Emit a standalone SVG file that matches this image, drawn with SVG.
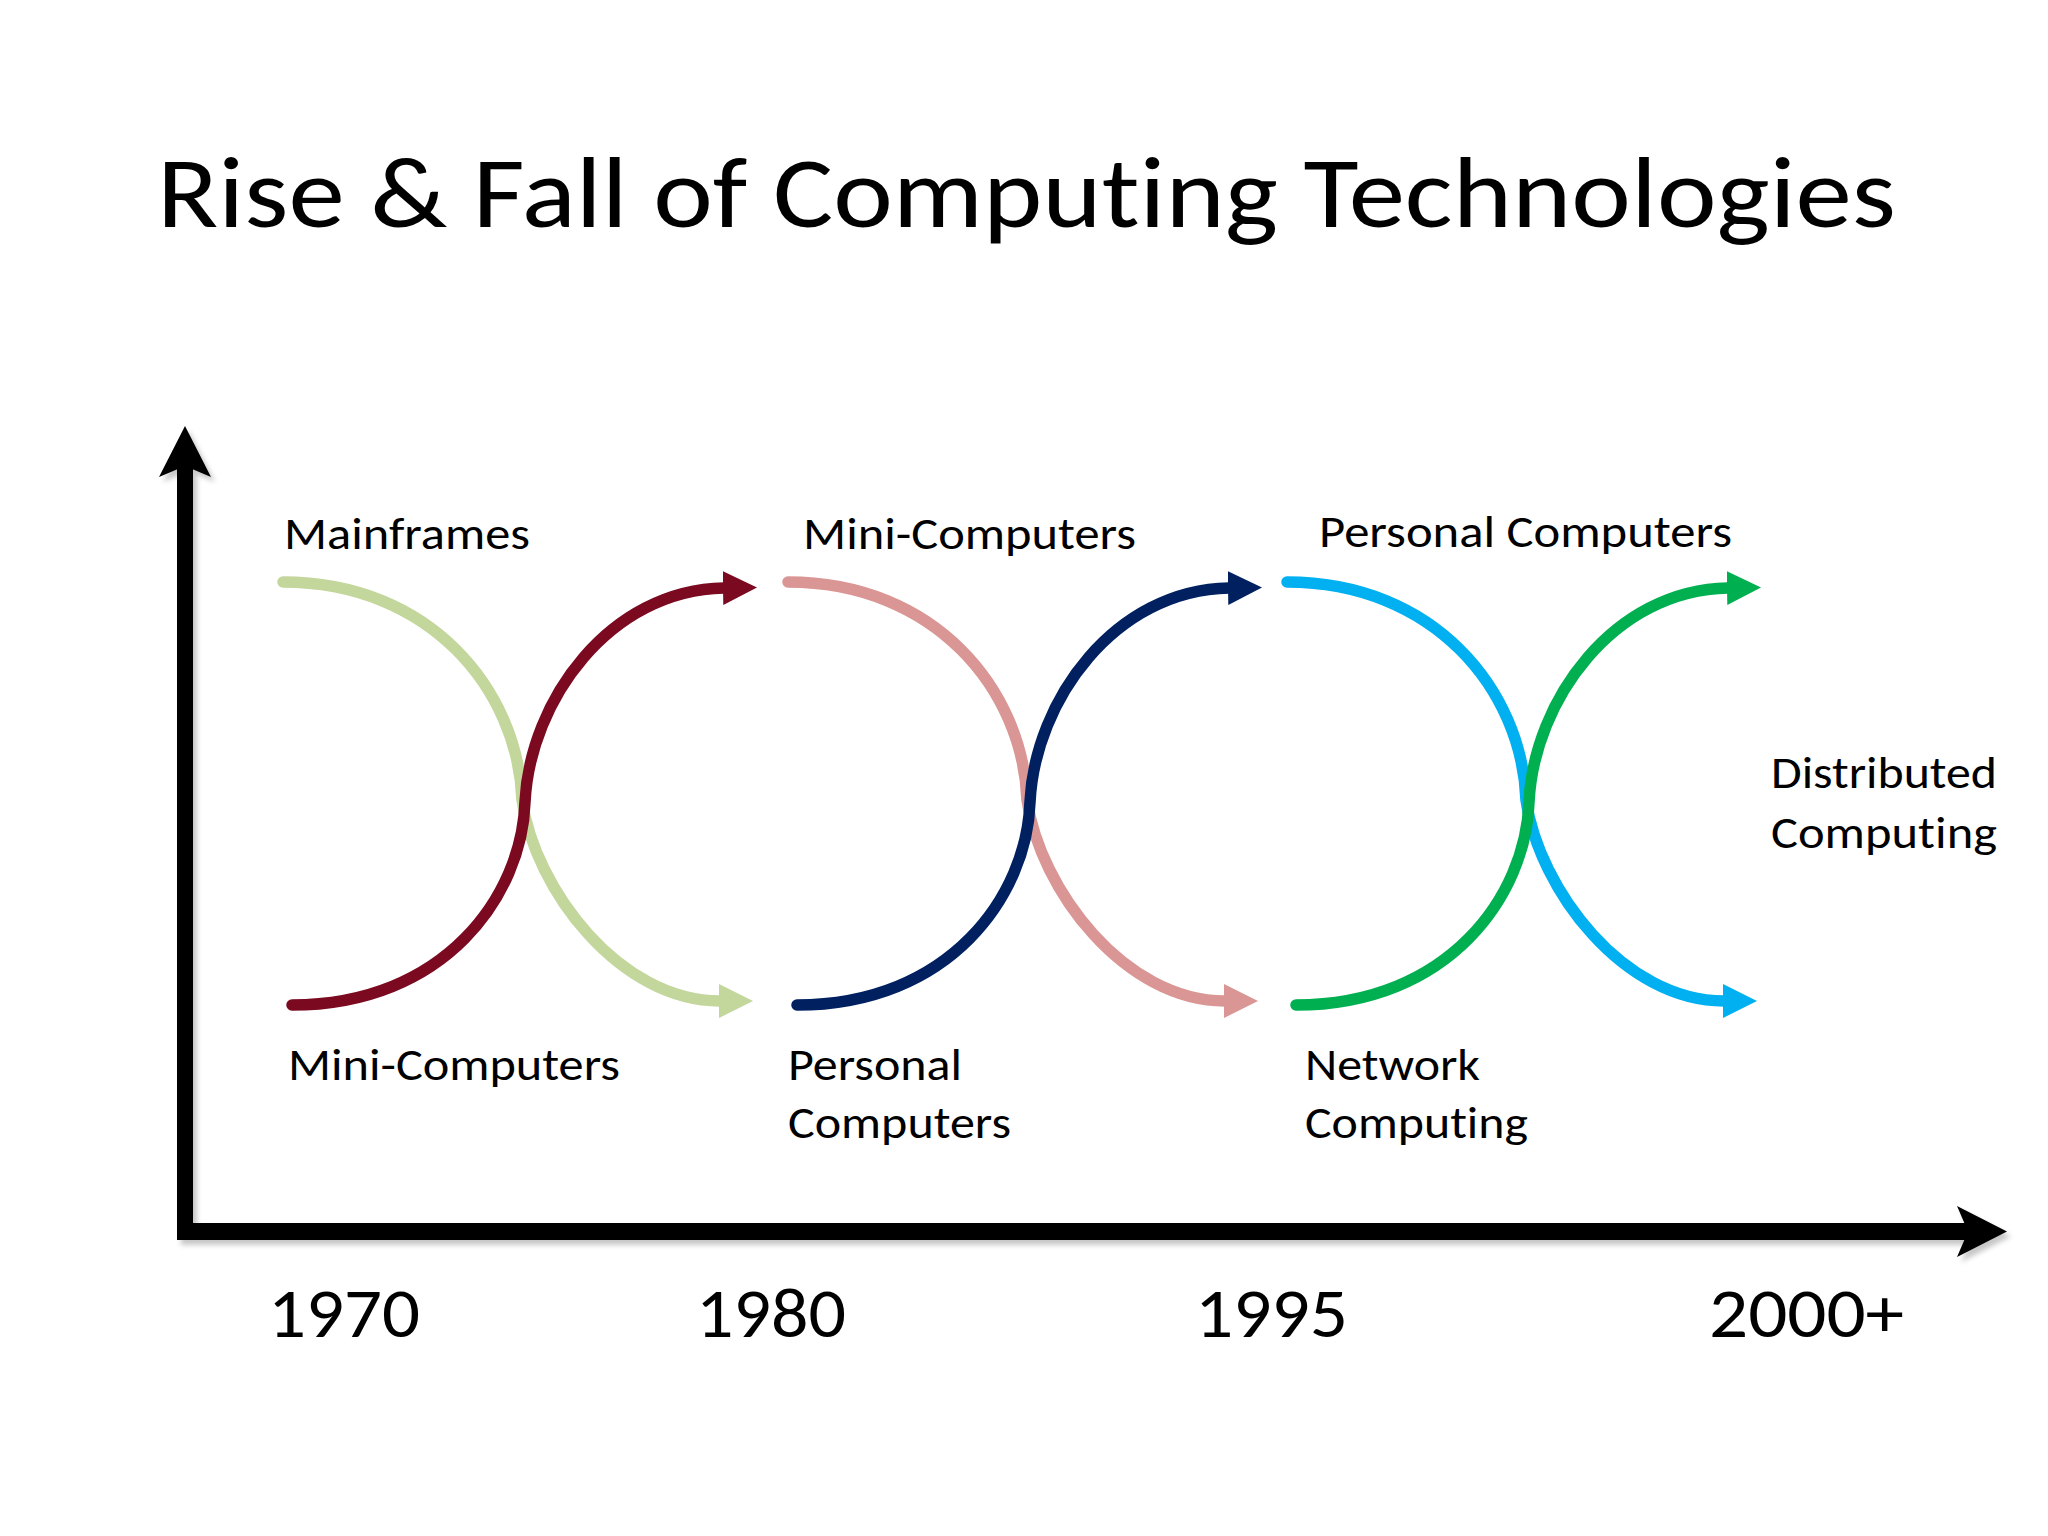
<svg xmlns="http://www.w3.org/2000/svg" width="2048" height="1536" viewBox="0 0 2048 1536">
  <style>
    text { font-family: Carlito, Lato, "Open Sans", sans-serif; fill: #000; font-variant-ligatures: none; font-feature-settings: "liga" 0, "clig" 0, "dlig" 0; }
    .title { font-size: 100px; }
    .lbl { font-size: 45px; }
    .year { font-size: 70px; }
    .curve { fill: none; stroke-width: 11.5; stroke-linecap: round; }
  </style>
  <defs>
    <filter id="shadow" x="-5%" y="-5%" width="110%" height="110%">
      <feDropShadow dx="4" dy="5" stdDeviation="2.5" flood-color="#000" flood-opacity="0.22"/>
    </filter>
    <marker id="m-lg" markerUnits="userSpaceOnUse" markerWidth="36" markerHeight="34" refX="1" refY="17" orient="auto"><path d="M0,0 L34,17 L0,34 Z" fill="#C3D69B"/></marker>
    <marker id="m-dr" markerUnits="userSpaceOnUse" markerWidth="36" markerHeight="34" refX="1" refY="17" orient="auto"><path d="M0,0 L34,17 L0,34 Z" fill="#7B0A21"/></marker>
    <marker id="m-pk" markerUnits="userSpaceOnUse" markerWidth="36" markerHeight="34" refX="1" refY="17" orient="auto"><path d="M0,0 L34,17 L0,34 Z" fill="#D99694"/></marker>
    <marker id="m-nv" markerUnits="userSpaceOnUse" markerWidth="36" markerHeight="34" refX="1" refY="17" orient="auto"><path d="M0,0 L34,17 L0,34 Z" fill="#002060"/></marker>
    <marker id="m-cy" markerUnits="userSpaceOnUse" markerWidth="36" markerHeight="34" refX="1" refY="17" orient="auto"><path d="M0,0 L34,17 L0,34 Z" fill="#00B0F0"/></marker>
    <marker id="m-gr" markerUnits="userSpaceOnUse" markerWidth="36" markerHeight="34" refX="1" refY="17" orient="auto"><path d="M0,0 L34,17 L0,34 Z" fill="#00B050"/></marker>
  </defs>
  <rect width="2048" height="1536" fill="#fff"/>

  <g id="title">
    <text class="title" x="157" y="227" textLength="1739" lengthAdjust="spacingAndGlyphs">Rise &amp; Fall of Computing Technologies</text>
  </g>

  <g id="axes" filter="url(#shadow)">
    <rect x="177" y="462" width="16" height="778" fill="#000"/>
    <path d="M185,426 L211,477 L185,466 L159,477 Z" fill="#000"/>
    <rect x="177" y="1223" width="1795" height="17" fill="#000"/>
    <path d="M2007,1231.5 L1957,1206 L1968,1231.5 L1957,1257 Z" fill="#000"/>
  </g>

  <g id="connectors">
    <g id="pair-1970">
      <path class="curve" d="M283,582 C430,582 518,690 522,800 C535,890 620,1001 720,1001" stroke="#C3D69B" marker-end="url(#m-lg)"/>
      <path class="curve" d="M292,1005 C445,1005 522,895 525,802 C530,700 610,590 724,588" stroke="#7B0A21" marker-end="url(#m-dr)"/>
    </g>
    <g id="pair-1980" transform="translate(505,0)">
      <path class="curve" d="M283,582 C430,582 518,690 522,800 C535,890 620,1001 720,1001" stroke="#D99694" marker-end="url(#m-pk)"/>
      <path class="curve" d="M292,1005 C445,1005 522,895 525,802 C530,700 610,590 724,588" stroke="#002060" marker-end="url(#m-nv)"/>
    </g>
    <g id="pair-1995" transform="translate(1004,0)">
      <path class="curve" d="M283,582 C430,582 518,690 522,800 C535,890 620,1001 720,1001" stroke="#00B0F0" marker-end="url(#m-cy)"/>
      <path class="curve" d="M292,1005 C445,1005 522,895 525,802 C530,700 610,590 724,588" stroke="#00B050" marker-end="url(#m-gr)"/>
    </g>
  </g>

  <g id="node-mainframes"><text class="lbl" x="284" y="549" textLength="246" lengthAdjust="spacingAndGlyphs">Mainframes</text></g>
  <g id="node-mini-top"><text class="lbl" x="803" y="549" textLength="333" lengthAdjust="spacingAndGlyphs">Mini-Computers</text></g>
  <g id="node-pc-top"><text class="lbl" x="1319" y="547" textLength="413" lengthAdjust="spacingAndGlyphs">Personal Computers</text></g>
  <g id="node-distributed">
    <text class="lbl" x="1771" y="788" textLength="226" lengthAdjust="spacingAndGlyphs">Distributed</text>
    <text class="lbl" x="1771" y="848" textLength="226" lengthAdjust="spacingAndGlyphs">Computing</text>
  </g>
  <g id="node-mini-bottom"><text class="lbl" x="288" y="1080" textLength="332" lengthAdjust="spacingAndGlyphs">Mini-Computers</text></g>
  <g id="node-pc-bottom">
    <text class="lbl" x="788" y="1080" textLength="174" lengthAdjust="spacingAndGlyphs">Personal</text>
    <text class="lbl" x="788" y="1138" textLength="223" lengthAdjust="spacingAndGlyphs">Computers</text>
  </g>
  <g id="node-network">
    <text class="lbl" x="1305" y="1080" textLength="175" lengthAdjust="spacingAndGlyphs">Network</text>
    <text class="lbl" x="1305" y="1138" textLength="223" lengthAdjust="spacingAndGlyphs">Computing</text>
  </g>

  <g id="years">
    <text class="year" x="268" y="1337" textLength="152" lengthAdjust="spacingAndGlyphs">1970</text>
    <text class="year" x="696" y="1337" textLength="150" lengthAdjust="spacingAndGlyphs">1980</text>
    <text class="year" x="1195" y="1337" textLength="153" lengthAdjust="spacingAndGlyphs">1995</text>
    <text class="year" x="1709" y="1337" textLength="195" lengthAdjust="spacingAndGlyphs">2000+</text>
  </g>
</svg>
